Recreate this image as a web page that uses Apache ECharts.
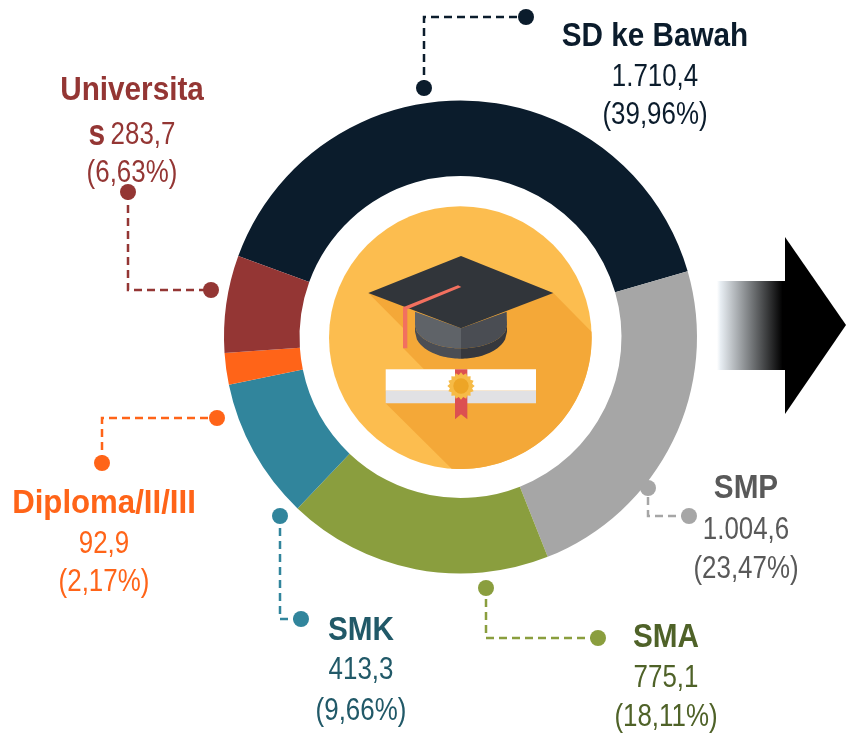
<!DOCTYPE html>
<html><head><meta charset="utf-8">
<style>html,body{margin:0;padding:0;background:#fff}#c{width:846px;height:734px}</style>
<script src="https://cdn.jsdelivr.net/npm/echarts@6/dist/echarts.min.js"></script>
</head><body><div id="c"></div>
<script>
const categories = ['SD ke Bawah','SMP','SMA','SMK','Diploma/II/III','Universitas'];
const values = [1710.4,1004.6,775.1,413.3,92.9,283.7];
const valueLabels = ['1.710,4','1.004,6','775,1','413,3','92,9','283,7'];
const pctLabels = ['(39,96%)','(23,47%)','(18,11%)','(9,66%)','(2,17%)','(6,63%)'];
const sliceColors = ['#0b1c2c','#a6a6a6','#8a9e3e','#31859c','#ff6418','#943634'];
const FONT = '"Liberation Sans",Arial,sans-serif';

const chart = echarts.init(document.getElementById('c'), null, {renderer:'canvas'});
const g = [];
const TS=33, VS=32, TSX=0.9, VSX=0.81;
function txt(s,x,y,fill,bold,sx){
  g.push({type:'text',x,y,scaleX:sx||(bold?TSX:VSX),silent:true,style:{text:s,fill,font:`${bold?'bold':'normal'} ${bold?TS:VS}px ${FONT}`,align:'center',verticalAlign:'middle'}});
}
function leader(pts,c){
  g.push({type:'polyline',silent:true,shape:{points:pts},style:{stroke:c,lineWidth:2.5,lineDash:[8,5],fill:null}});
  [pts[0],pts[pts.length-1]].forEach(p=>g.push({type:'circle',silent:true,shape:{cx:p[0],cy:p[1],r:8},style:{fill:c}}));
}
// leaders
leader([[424,88],[424,17],[526,17]],sliceColors[0]);
leader([[689,516],[648,516],[648,488]],sliceColors[1]);
leader([[598,638],[486,638],[486,588]],sliceColors[2]);
leader([[301,619],[280,619],[280,516]],sliceColors[3]);
leader([[102,463],[102,418],[217,418]],sliceColors[4]);
leader([[128,192],[128,290],[211,290]],sliceColors[5]);
// labels
function block(i,x,y0,y1,y2,c,sx){txt(categories[i],x,y0,c,true,sx);txt(valueLabels[i],x,y1,c);txt(pctLabels[i],x,y2,c);}
block(0,655,37,77,115,'#0b1c2c');
block(1,746,489,530,569,'#595959');
block(2,666,638,678,717,'#4f6228');
block(3,361,631,670,711,'#215968');
block(4,104,504,544,582,'#ff6418',0.945);
txt(categories[5].slice(0,-1),132,91,'#943634',true);
g.push({type:'text',x:132,y:135,scaleX:VSX,silent:true,style:{
  text:'{b|s}  {v|'+valueLabels[5]+'}',align:'center',verticalAlign:'middle',fill:'#943634',
  rich:{b:{font:`bold 37px ${FONT}`,fill:'#943634'},v:{font:`normal ${VS}px ${FONT}`,fill:'#943634'}}}});
txt(pctLabels[5],132,173,'#943634');
// arrow
g.push({type:'rect',silent:true,shape:{x:717,y:281,width:69,height:89},style:{fill:new echarts.graphic.LinearGradient(0,0,1,0,[{offset:0,color:'#ffffff'},{offset:0.05,color:'#e8eef3'},{offset:0.95,color:'#000'},{offset:1,color:'#000'}])}});
g.push({type:'polygon',silent:true,shape:{points:[[785,237],[846,325],[785,414]]},style:{fill:'#000'}});
// icon in 3x zoom units
const ic=[];
const CX=421,CY=413,R=394;
ic.push({type:'circle',shape:{cx:CX,cy:CY,r:R},style:{fill:'#fcbd4f'}});
const shadow=[[145,279],[250,385],[250,445],[312,508],[197,508],[197,610]];
const a0=Math.atan2(806-CY,395-CX),a1=Math.atan2(395-CY,815-CX);
for(let i=0;i<=40;i++){const a=a0+(a1-a0)*i/40;shadow.push([CX+R*Math.cos(a),CY+R*Math.sin(a)]);}
shadow.push([700,279]);
ic.push({type:'polygon',shape:{points:shadow},style:{fill:'#f4a838'}});
// cap base
function arc(x0,x1,yEdge,yMid){const p=[];for(let i=0;i<=24;i++){const t=i/24,x=x0+(x1-x0)*t,u=(x-423)/138;p.push([x,yEdge+(yMid-yEdge)*Math.sqrt(Math.max(0,1-u*u))]);}return p;}
function band(xa,xb,topE,topM,botE,botM,fill){
  const top=arc(xa,xb,topE,topM), bot=arc(xa,xb,botE,botM).reverse();
  ic.push({type:'polygon',shape:{points:top.concat(bot)},style:{fill}});
}
ic.push({type:'polygon',shape:{points:[[285,335],[423,385],[423,445]].concat(arc(285,423,375,445).reverse())},style:{fill:'#5f6368'}});
ic.push({type:'polygon',shape:{points:[[560,335],[423,385],[423,445]].concat(arc(423,561,375,445))},style:{fill:'#4a4d53'}});
band(285,423,375,445,395,476,'#4b4e54');
band(423,561,375,445,395,476,'#36383d');
ic.push({type:'polygon',shape:{points:[[145,279],[423,168],[700,279],[423,385]]},style:{fill:'#31353a'}});
ic.push({type:'polygon',shape:{points:[[249,322],[414,256],[424,261],[262,328],[262,445],[249,445]]},style:{fill:'#f2705f'}});
// scroll
ic.push({type:'rect',shape:{x:197,y:508,width:451,height:64},style:{fill:'#ffffff'}});
ic.push({type:'rect',shape:{x:197,y:572,width:451,height:38},style:{fill:'#e1e1e4'}});
ic.push({type:'polygon',shape:{points:[[405,508],[442,508],[442,658],[423,643],[405,658]]},style:{fill:'#dc5051'}});
const seal=[];for(let i=0;i<32;i++){const r=i%2?34:41,a=i*Math.PI/16;seal.push([423+r*Math.cos(a),558+r*Math.sin(a)]);}
ic.push({type:'polygon',shape:{points:seal},style:{fill:'#f6bb47'}});
ic.push({type:'circle',shape:{cx:423,cy:558,r:23},style:{fill:'#eda526'}});
ic.forEach(e=>e.silent=true);
g.push({type:'group',x:320,y:200,scaleX:1/3,scaleY:1/3,children:ic});

chart.setOption({
  animation:false,
  backgroundColor:'#fff',
  series:[{type:'pie',center:[460.5,337],radius:[161,236.5],startAngle:160,clockwise:true,
    label:{show:false},labelLine:{show:false},silent:true,
    data:categories.map((n,i)=>({name:n,value:values[i],itemStyle:{color:sliceColors[i]}}))}],
  graphic:{elements:g}
});
</script></body></html>
